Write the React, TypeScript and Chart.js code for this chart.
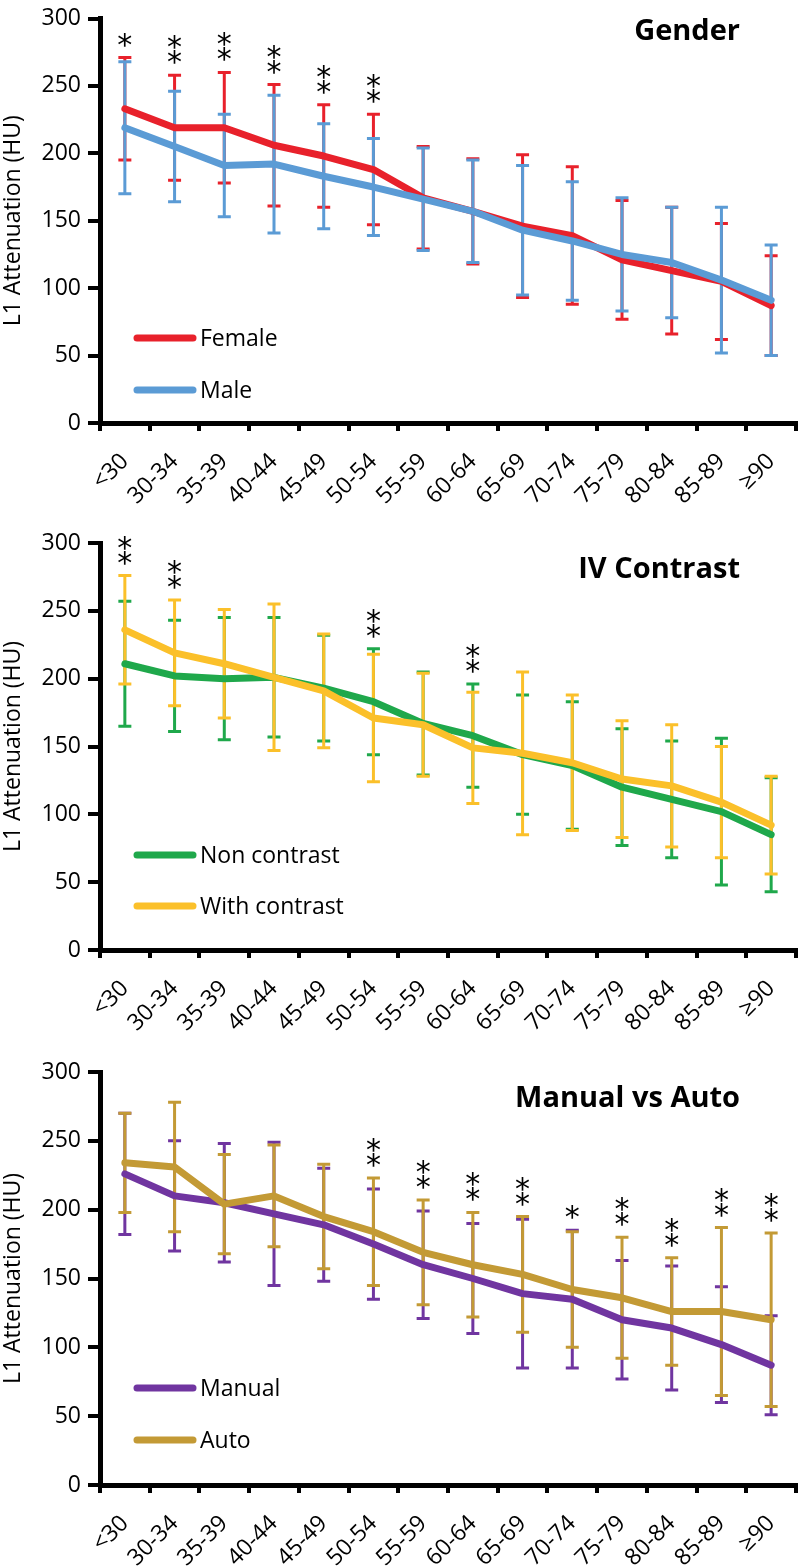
import React, { useEffect, useRef } from 'react';
import { Chart, registerables } from 'chart.js';

Chart.register(...registerables);

const ageGroups = ['<30', '30-34', '35-39', '40-44', '45-49', '50-54', '55-59', '60-64', '65-69', '70-74', '75-79', '80-84', '85-89', '≥90'];
const yTicks = [0, 50, 100, 150, 200, 250, 300];

const femaleMean = [233, 219, 219, 206, 198, 188, 167, 157, 146, 139, 121, 113, 105, 87];
const femaleSD = [38, 39, 41, 45, 38, 41, 38, 39, 53, 51, 44, 47, 43, 37];
const maleMean = [219, 205, 191, 192, 183, 175, 166, 157, 143, 135, 125, 119, 106, 91];
const maleSD = [49, 41, 38, 51, 39, 36, 38, 38, 48, 44, 42, 41, 54, 41];
const genderSig = ['*', '**', '**', '**', '**', '**', '', '', '', '', '', '', '', ''];

const nonContrastMean = [211, 202, 200, 201, 193, 183, 167, 158, 144, 136, 120, 111, 102, 85];
const nonContrastSD = [46, 41, 45, 44, 39, 39, 38, 38, 44, 47, 43, 43, 54, 42];
const withContrastMean = [236, 219, 211, 201, 191, 171, 166, 149, 145, 138, 126, 121, 109, 92];
const withContrastSD = [40, 39, 40, 54, 42, 47, 38, 41, 60, 50, 43, 45, 41, 36];
const contrastSig = ['**', '**', '', '', '', '**', '', '**', '', '', '', '', '', ''];

const manualMean = [226, 210, 205, 197, 189, 175, 160, 150, 139, 135, 120, 114, 102, 87];
const manualSD = [44, 40, 43, 52, 41, 40, 39, 40, 54, 50, 43, 45, 42, 36];
const autoMean = [234, 231, 204, 210, 195, 184, 169, 160, 153, 142, 136, 126, 126, 120];
const autoSD = [36, 47, 36, 37, 38, 39, 38, 38, 42, 42, 44, 39, 61, 63];
const methodSig = ['', '', '', '', '', '**', '**', '**', '**', '*', '**', '**', '**', '**'];

const FONT = "'Open Sans', sans-serif";

type Series = { label: string; mean: number[]; sd: number[]; color: string };
type Panel = {
  title: string;
  series: Series[];
  sig: string[];
  height: number;
  top: number;
  bottom: number;
  titleBaseline: number;
  legendY: number[];
};

const panels: Panel[] = [
  {
    title: 'Gender',
    series: [
      { label: 'Female', mean: femaleMean, sd: femaleSD, color: '#E8212B' },
      { label: 'Male', mean: maleMean, sd: maleSD, color: '#5B9BD5' },
    ],
    sig: genderSig,
    height: 522,
    top: 12,
    bottom: 423,
    titleBaseline: 40,
    legendY: [338, 390],
  },
  {
    title: 'IV Contrast',
    series: [
      { label: 'Non contrast', mean: nonContrastMean, sd: nonContrastSD, color: '#1FA84B' },
      { label: 'With contrast', mean: withContrastMean, sd: withContrastSD, color: '#FBC02A' },
    ],
    sig: contrastSig,
    height: 522,
    top: 21,
    bottom: 428,
    titleBaseline: 56,
    legendY: [333, 384],
  },
  {
    title: 'Manual vs Auto',
    series: [
      { label: 'Manual', mean: manualMean, sd: manualSD, color: '#7035A0' },
      { label: 'Auto', mean: autoMean, sd: autoSD, color: '#C39A35' },
    ],
    sig: methodSig,
    height: 522,
    top: 28,
    bottom: 441,
    titleBaseline: 63,
    legendY: [344, 396],
  },
];

function drawCenteredGlyph(ctx: CanvasRenderingContext2D, text: string, cx: number, cy: number) {
  const m = ctx.measureText(text);
  const asc = m.actualBoundingBoxAscent;
  const desc = m.actualBoundingBoxDescent;
  const baseline = cy + (asc - desc) / 2;
  ctx.fillText(text, cx, baseline);
}

function PanelChart({ panel }: { panel: Panel }) {
  const ref = useRef<HTMLCanvasElement>(null);
  useEffect(() => {
    const canvas = ref.current!;
    const plugin = {
      id: 'decor',
      beforeDatasetsDraw(chart: any) {
        const { ctx } = chart;
        const x = chart.scales.x;
        const y = chart.scales.y;
        ctx.save();
        panel.series.forEach((s) => {
          ctx.strokeStyle = s.color;
          ctx.lineWidth = 3;
          ctx.lineCap = 'butt';
          s.mean.forEach((m, i) => {
            const px = x.getPixelForValue(i);
            const yt = y.getPixelForValue(m + s.sd[i]);
            const yb = y.getPixelForValue(m - s.sd[i]);
            ctx.beginPath();
            ctx.moveTo(px, yt);
            ctx.lineTo(px, yb);
            ctx.moveTo(px - 6.5, yt);
            ctx.lineTo(px + 6.5, yt);
            ctx.moveTo(px - 6.5, yb);
            ctx.lineTo(px + 6.5, yb);
            ctx.stroke();
          });
        });
        ctx.restore();
      },
      afterDraw(chart: any) {
        const { ctx } = chart;
        const x = chart.scales.x;
        const y = chart.scales.y;
        ctx.save();
        // significance asterisks, stacked vertically
        ctx.fillStyle = '#000';
        ctx.textAlign = 'center';
        ctx.font = "30px 'DejaVu Sans'";
        panel.sig.forEach((sg, i) => {
          if (!sg) return;
          const maxTop = Math.max(...panel.series.map((s) => s.mean[i] + s.sd[i]));
          const px = x.getPixelForValue(i);
          const py = y.getPixelForValue(maxTop);
          for (let k = 0; k < sg.length; k++) {
            drawCenteredGlyph(ctx, '*', px, py - 18 - k * 15);
          }
        });
        // legend
        panel.series.forEach((s, k) => {
          const ly = panel.legendY[k];
          ctx.strokeStyle = s.color;
          ctx.lineWidth = 7;
          ctx.lineCap = 'round';
          ctx.beginPath();
          ctx.moveTo(137, ly);
          ctx.lineTo(193, ly);
          ctx.stroke();
          ctx.fillStyle = '#000';
          ctx.textAlign = 'left';
          ctx.textBaseline = 'middle';
          ctx.font = `23px ${FONT}`;
          ctx.fillText(s.label, 200, ly + 1);
        });
        // title
        ctx.textBaseline = 'alphabetic';
        ctx.textAlign = 'right';
        ctx.font = `bold 29px ${FONT}`;
        ctx.fillStyle = '#000';
        ctx.fillText(panel.title, 740, panel.titleBaseline);
        ctx.restore();
      },
    };

    const xHeight = panel.height - panel.bottom;
    const chart = new Chart(canvas, {
      type: 'line',
      data: {
        labels: ageGroups,
        datasets: panel.series.map((s, k) => ({
          label: s.label,
          data: s.mean,
          borderColor: s.color,
          backgroundColor: s.color,
          borderWidth: 7,
          pointRadius: 0,
          tension: 0,
          borderCapStyle: 'round',
          borderJoinStyle: 'round',
          order: 2 - k,
        })),
      },
      options: {
        animation: false,
        responsive: false,
        devicePixelRatio: 1,
        layout: { padding: { top: panel.top, left: 0, right: 4, bottom: 0 } },
        plugins: {
          legend: { display: false },
          tooltip: { enabled: false },
          title: { display: false },
        },
        scales: {
          x: {
            type: 'category',
            offset: true,
            grid: {
              display: true,
              drawOnChartArea: false,
              offset: true,
              tickLength: 8,
              lineWidth: 4,
              color: '#000',
            },
            border: { display: true, width: 5, color: '#000' },
            ticks: {
              autoSkip: false,
              minRotation: 45,
              maxRotation: 45,
              color: '#000',
              padding: 17,
              font: { family: FONT, size: 23 },
            },
            afterFit: (s: any) => {
              s.height = xHeight;
              s.paddingLeft = 0;
              s.paddingRight = 0;
            },
          },
          y: {
            min: 0,
            max: 300,
            afterBuildTicks: (s: any) => {
              s.ticks = yTicks.map((v) => ({ value: v }));
            },
            grid: {
              display: true,
              drawOnChartArea: false,
              tickLength: 12,
              lineWidth: 4,
              color: '#000',
            },
            border: { display: true, width: 5, color: '#000' },
            ticks: {
              color: '#000',
              padding: 7,
              font: { family: FONT, size: 23, lineHeight: 1 },
            },
            title: {
              display: true,
              text: 'L1 Attenuation (HU)',
              color: '#000',
              padding: { top: 0, bottom: 0 },
              font: { family: FONT, size: 23 },
            },
            afterFit: (s: any) => {
              s.width = 100;
            },
          },
        },
      },
      plugins: [plugin],
    } as any);
    return () => chart.destroy();
  }, [panel]);
  return (
    <canvas
      ref={ref}
      width={800}
      height={panel.height}
      style={{ display: 'block', width: 800, height: panel.height }}
    />
  );
}

export default function App() {
  return (
    <div style={{ position: 'absolute', left: 0, top: 0, width: 800, height: 1566, background: '#fff' }}>
      {panels.map((p) => (
        <PanelChart key={p.title} panel={p} />
      ))}
    </div>
  );
}
